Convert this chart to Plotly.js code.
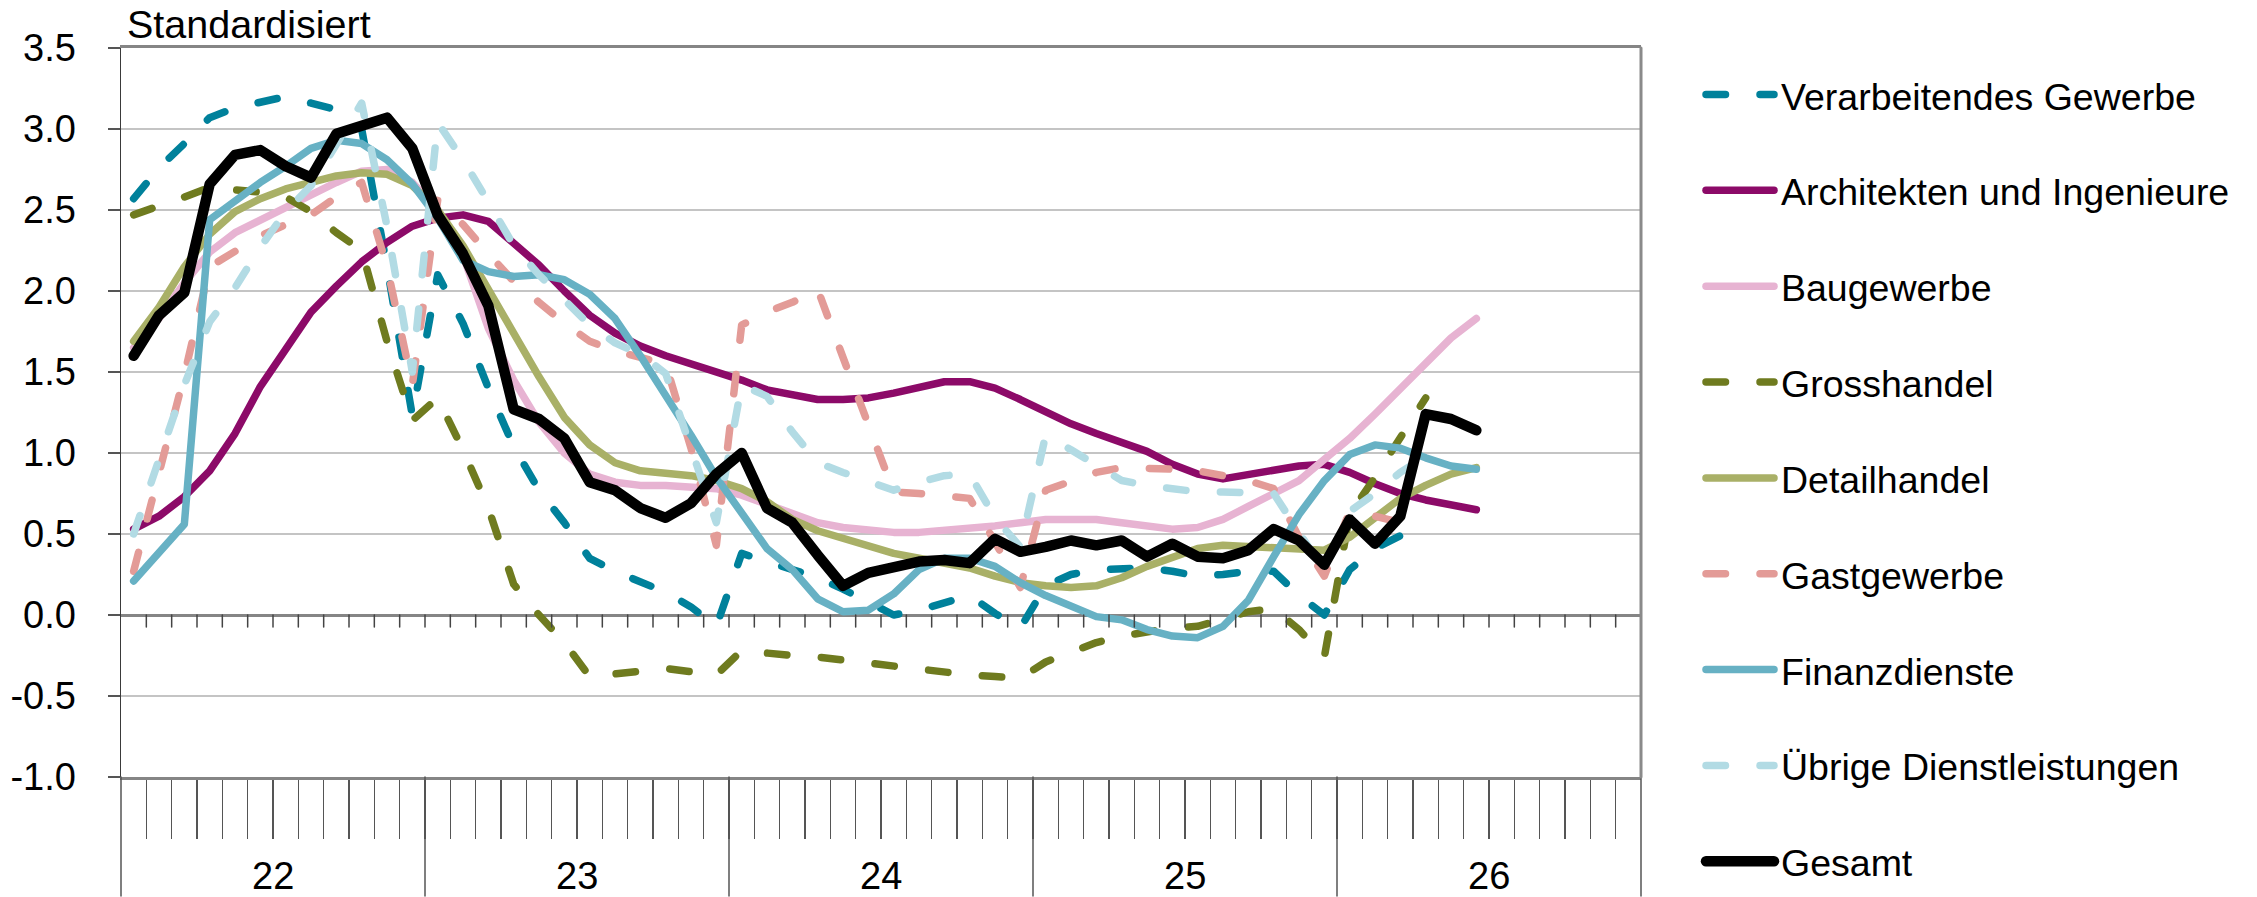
<!DOCTYPE html>
<html>
<head>
<meta charset="utf-8">
<script src="https://cdn.plot.ly/plotly-3.0.1.min.js"></script>
<style>
  html, body { margin: 0; padding: 0; background: #fff; }
  #chart { width: 2257px; height: 897px; }
  .scatterlayer .js-line { stroke-linecap: round !important; stroke-linejoin: round !important; }
  .shapelayer path { stroke-linecap: round; }
</style>
</head>
<body>
<div id="chart"></div>
<script>
// ---------- data (monthly, Jan 2022 onwards) ----------
const yearLabels = ['22', '23', '24', '25', '26'];
const seriesNames = [
  'Verarbeitendes Gewerbe', 'Architekten und Ingenieure', 'Baugewerbe', 'Grosshandel',
  'Detailhandel', 'Gastgewerbe', 'Finanzdienste', 'Übrige Dienstleistungen', 'Gesamt'
];

const verarbeitendes = [2.57,2.76,2.91,3.07,3.13,3.16,3.20,3.16,3.12,3.00,
  2.15,1.23,2.10,1.80,1.40,1.04,0.77,0.57,0.35,0.27,
  0.20,0.14,0.05,-0.07,0.38,0.33,0.28,0.23,0.16,0.08,
  0.00,0.03,0.07,0.12,0.01,-0.08,0.18,0.25,0.28,0.28,
  0.29,0.27,0.24,0.25,0.27,0.27,0.12,0.00,0.28,0.41,
  0.49,0.61];
const architekten = [0.53,0.61,0.73,0.89,1.12,1.41,1.64,1.87,2.03,2.18,
  2.30,2.40,2.45,2.47,2.43,2.30,2.16,2.00,1.85,1.74,
  1.66,1.60,1.55,1.51,1.45,1.39,1.36,1.33,1.33,1.34,
  1.37,1.41,1.44,1.44,1.40,1.33,1.25,1.18,1.12,1.07,
  1.01,0.93,0.87,0.84,0.87,0.90,0.92,0.93,0.88,0.81,
  0.75,0.71,0.68,0.65];
const baugewerbe = [1.65,1.83,2.05,2.24,2.36,2.44,2.52,2.59,2.67,2.74,
  2.75,2.67,2.50,2.22,1.77,1.45,1.19,1.00,0.87,0.82,
  0.80,0.80,0.79,0.78,0.74,0.68,0.63,0.57,0.54,0.52,
  0.51,0.51,0.52,0.53,0.55,0.57,0.59,0.59,0.59,0.57,
  0.55,0.53,0.54,0.59,0.67,0.75,0.83,0.96,1.09,1.24,
  1.40,1.56,1.71,1.83];
const grosshandel = [2.47,2.52,2.58,2.64,2.63,2.61,2.58,2.49,2.36,2.25,
  1.69,1.20,1.34,1.02,0.66,0.19,0.00,-0.17,-0.38,-0.36,
  -0.34,-0.33,-0.35,-0.37,-0.22,-0.24,-0.25,-0.26,-0.28,-0.30,
  -0.31,-0.33,-0.35,-0.37,-0.38,-0.39,-0.29,-0.23,-0.17,-0.13,
  -0.10,-0.08,-0.07,-0.02,0.02,0.04,-0.09,-0.26,0.62,0.85,
  1.09,1.34];
const detailhandel = [1.69,1.90,2.15,2.35,2.49,2.57,2.63,2.67,2.71,2.73,
  2.72,2.65,2.50,2.28,2.02,1.74,1.47,1.22,1.05,0.94,
  0.89,0.88,0.86,0.83,0.78,0.70,0.59,0.52,0.47,0.42,
  0.38,0.35,0.32,0.29,0.24,0.20,0.18,0.17,0.18,0.23,
  0.30,0.36,0.41,0.43,0.42,0.41,0.40,0.40,0.48,0.60,
  0.72,0.80,0.87,0.91];
const gastgewerbe = [0.27,0.89,1.48,2.15,2.25,2.34,2.41,2.47,2.58,2.67,
  2.15,1.42,2.56,2.41,2.23,2.06,1.93,1.80,1.69,1.63,
  1.59,1.55,1.03,0.43,1.79,1.87,1.93,2.01,1.59,1.17,
  0.76,0.75,0.74,0.72,0.45,0.17,0.77,0.83,0.88,0.91,
  0.91,0.90,0.89,0.86,0.83,0.78,0.48,0.24,0.64,0.61,
  0.57,0.53];
const finanzdienste = [0.21,0.38,0.56,2.44,2.56,2.67,2.77,2.88,2.93,2.91,
  2.81,2.66,2.45,2.19,2.12,2.09,2.10,2.07,1.98,1.83,
  1.60,1.36,1.11,0.85,0.62,0.41,0.28,0.10,0.02,0.03,
  0.13,0.28,0.35,0.35,0.30,0.20,0.12,0.05,-0.01,-0.03,
  -0.09,-0.13,-0.14,-0.07,0.09,0.36,0.62,0.83,0.99,1.05,
  1.03,0.97,0.92,0.90];
const uebrige = [0.50,0.96,1.42,1.81,2.02,2.27,2.49,2.65,2.90,3.16,
  2.40,1.50,3.04,2.81,2.55,2.28,2.10,1.94,1.79,1.68,
  1.61,1.49,1.02,0.57,1.42,1.35,1.13,0.94,0.88,0.82,
  0.77,0.82,0.86,0.87,0.60,0.42,1.11,1.02,0.92,0.83,
  0.80,0.78,0.76,0.76,0.76,0.75,0.51,0.27,0.64,0.75,
  0.88,0.98];
const gesamt = [1.60,1.85,1.99,2.66,2.84,2.87,2.77,2.70,2.97,3.02,
  3.07,2.88,2.47,2.23,1.91,1.27,1.21,1.09,0.82,0.77,
  0.66,0.60,0.69,0.87,1.00,0.66,0.57,0.37,0.18,0.26,
  0.30,0.33,0.34,0.32,0.47,0.39,0.42,0.46,0.43,0.46,
  0.36,0.44,0.36,0.35,0.40,0.53,0.46,0.31,0.59,0.44,
  0.61,1.24,1.21,1.14];

const seriesValues = [verarbeitendes, architekten, baugewerbe, grosshandel,
  detailhandel, gastgewerbe, finanzdienste, uebrige, gesamt];
const yTickValues = [-1.0, -0.5, 0.0, 0.5, 1.0, 1.5, 2.0, 2.5, 3.0, 3.5];

// ---------- styles ----------
const DASH = '19.5px,34.5px';
const LW = 7.5;
const styles = [
  {color: '#00819b', dash: DASH, width: LW},
  {color: '#8c0a68', dash: 'solid', width: LW},
  {color: '#e7b3d2', dash: 'solid', width: LW},
  {color: '#6f7b1f', dash: DASH, width: LW},
  {color: '#a9b067', dash: 'solid', width: LW},
  {color: '#e39b97', dash: DASH, width: LW},
  {color: '#67b1c4', dash: 'solid', width: LW},
  {color: '#b2dbe4', dash: DASH, width: LW},
  {color: '#000000', dash: 'solid', width: 10.5}
];

// ---------- geometry helpers (pixels -> paper) ----------
const W = 2257, H = 897;
const PL = 121, PR = 1641, PT = 48, PB = 777;
const PW = PR - PL, PH = PB - PT;
const MONTHS = 60;
const px = X => (X - PL) / PW;
const py = Y => (PB - Y) / PH;

// ---------- traces ----------
const traces = seriesValues.map((vals, k) => ({
  type: 'scatter',
  mode: 'lines',
  name: seriesNames[k],
  x: vals.map((_, i) => i + 0.5),
  y: vals,
  line: {color: styles[k].color, width: styles[k].width, dash: styles[k].dash},
  hoverinfo: 'skip'
}));

// ---------- shapes ----------
const shapes = [];
// monthly ticks hanging from the zero line
const zeroPaper = 1 / 4.5; // value 0 in paper units (range -1..3.5)
for (let m = 1; m < MONTHS; m++) {
  shapes.push({type: 'line', xref: 'x', yref: 'paper', x0: m, x1: m,
    y0: zeroPaper, y1: zeroPaper - 12 / PH, line: {color: '#444', width: 1.5}, layer: 'above'});
}
// year separators below the plot
for (let k = 0; k <= yearLabels.length; k++) {
  shapes.push({type: 'line', xref: 'paper', yref: 'paper', x0: k / yearLabels.length, x1: k / yearLabels.length,
    y0: 0, y1: py(896), line: {color: '#555', width: 1.5}});
}
// right border
shapes.push({type: 'line', xref: 'paper', yref: 'paper', x0: 1, x1: 1, y0: 0, y1: 1,
  line: {color: '#8a8a8a', width: 3}, layer: 'above'});

// ---------- legend (drawn) ----------
const annotations = [];
const LEG_Y0 = 96.5, LEG_DY = 95.85;
seriesNames.forEach((name, k) => {
  const Y = LEG_Y0 + k * LEG_DY;
  shapes.push({type: 'line', xref: 'paper', yref: 'paper', x0: px(1706), x1: px(1774),
    y0: py(Y - 2), y1: py(Y - 2),
    line: {color: styles[k].color, width: styles[k].width, dash: styles[k].dash}});
  annotations.push({xref: 'paper', yref: 'paper', x: px(1779), y: py(Y), xanchor: 'left', yanchor: 'middle',
    text: name, showarrow: false, font: {size: 37.5, color: '#000'}});
});

// year labels
yearLabels.forEach((lab, k) => {
  annotations.push({xref: 'x', yref: 'paper', x: 6 + 12 * k, y: py(876), xanchor: 'center', yanchor: 'middle',
    text: lab, showarrow: false, font: {size: 38, color: '#000'}});
});

const monthBoundaries = [];
for (let m = 1; m < MONTHS; m++) monthBoundaries.push(m);

const layout = {
  width: W, height: H,
  margin: {l: PL, r: W - PR, t: PT, b: H - PB, pad: 0},
  paper_bgcolor: '#ffffff', plot_bgcolor: '#ffffff',
  showlegend: false,
  font: {family: 'Liberation Sans, Arial, sans-serif', color: '#000'},
  title: {text: 'Standardisiert', font: {size: 39.5, color: '#000'},
    xref: 'paper', x: px(127), xanchor: 'left', yref: 'container', y: 1 - 24 / H, yanchor: 'middle'},
  xaxis: {
    range: [0, MONTHS], showgrid: false, zeroline: false,
    showline: true, mirror: true, linecolor: '#858585', linewidth: 3,
    ticks: 'outside', tickmode: 'array', tickvals: monthBoundaries,
    ticklen: 59, tickwidth: 1.5, tickcolor: '#555', showticklabels: false, fixedrange: true
  },
  yaxis: {
    range: [-1, 3.5], tickmode: 'array', tickvals: yTickValues,
    ticktext: yTickValues.map(v => v.toFixed(1)),
    showgrid: true, gridcolor: '#c4c4c4', gridwidth: 2,
    zeroline: true, zerolinecolor: '#858585', zerolinewidth: 3,
    showline: true, linecolor: '#3a3a3a', linewidth: 1.5,
    ticks: 'outside', ticklen: 12, tickwidth: 1.5, tickcolor: '#555',
    tickfont: {size: 38, color: '#000'}, ticklabelstandoff: 24, fixedrange: true
  },
  shapes: shapes,
  annotations: annotations
};

Plotly.newPlot('chart', traces, layout, {staticPlot: true, displayModeBar: false});
</script>
</body>
</html>
